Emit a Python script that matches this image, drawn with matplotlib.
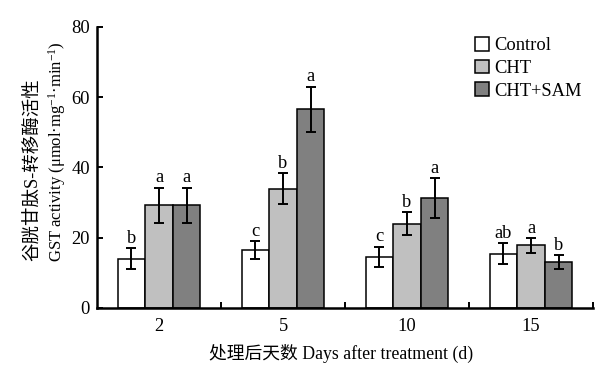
import matplotlib
matplotlib.use("Agg")
import matplotlib.pyplot as plt
import numpy as np

days = ["2", "5", "10", "15"]
series = ["Control", "CHT", "CHT+SAM"]
control = [14.0, 16.5, 14.5, 15.5]
cht = [29.3, 34.0, 24.0, 17.8]
cht_sam = [29.3, 56.6, 31.3, 13.0]
control_err = [3.0, 2.5, 2.9, 3.0]
cht_err = [5.0, 4.3, 3.3, 2.0]
cht_sam_err = [5.0, 6.4, 5.6, 2.0]
control_sig = ["b", "c", "c", "ab"]
cht_sig = ["a", "b", "b", "a"]
cht_sam_sig = ["a", "a", "a", "b"]

colors = ["white", "#c0c0c0", "#808080"]

plt.rcParams['font.family'] = ['Liberation Serif', 'Noto Sans CJK SC']
plt.rcParams['mathtext.fontset'] = 'custom'
plt.rcParams['mathtext.rm'] = 'Liberation Serif'
plt.rcParams['mathtext.it'] = 'Liberation Serif:italic'

FS = 13.3

fig = plt.figure(figsize=(6.11, 3.70), dpi=100)
ax = fig.add_axes([97/611, 62/370, 496/611, 281/370])

x = np.arange(len(days))
w = 0.223
vals = [control, cht, cht_sam]
errs = [control_err, cht_err, cht_sam_err]
sigs = [control_sig, cht_sig, cht_sam_sig]
for i, (v, e, s, c, name) in enumerate(zip(vals, errs, sigs, colors, series)):
    xs = x + (i - 1) * w
    ax.bar(xs, v, width=w, color=c, edgecolor='black', linewidth=1.1, label=name, zorder=2)
    ax.errorbar(xs, v, yerr=e, fmt='none', ecolor='black', elinewidth=1.4,
                capsize=3.8, capthick=1.4, zorder=3)
    for xi, vi, ei, si in zip(xs, v, e, s):
        ax.annotate(si, (xi, vi + ei), xytext=(0, 1.0), textcoords='offset points',
                    ha='center', va='bottom', fontsize=FS)

ax.set_xlim(-0.5, 3.5)
ax.set_ylim(0, 80)
ax.set_xticks(x)
ax.set_xticklabels(days, fontsize=FS)
ax.set_xticks([0.5, 1.5, 2.5, 3.5], minor=True)
ax.tick_params(axis='x', which='major', length=0, pad=7)
ax.tick_params(axis='x', which='minor', direction='in', length=4, width=1.4)
ax.set_yticks([0, 20, 40, 60, 80])
ax.tick_params(axis='y', direction='in', length=4, width=1.4, labelsize=FS, pad=5)
for sp in ['top', 'right']:
    ax.spines[sp].set_visible(False)
for sp in ['left', 'bottom']:
    ax.spines[sp].set_linewidth(1.8)

fig.text(341/611, 1 - 353/370, "处理后天数 Days after treatment (d)", ha='center', va='center', fontsize=12.8)
fig.text(33/611, 1 - 170/370, "谷胱甘肽S-转移酶活性", rotation=90, ha='center', va='center', fontsize=FS)
fig.text(57/611, 1 - 152/370, "GST activity (μmol·mg$^{-1}$·min$^{-1}$)", rotation=90,
         ha='center', va='center', fontsize=12)

leg = ax.legend(loc='upper left', bbox_to_anchor=(475/611, 1 - 37/370), bbox_transform=fig.transFigure,
                frameon=False, fontsize=FS, handlelength=0.75, handleheight=0.75,
                handletextpad=0.3, labelspacing=0.3, borderpad=0, borderaxespad=0)

fig.savefig("out.png", dpi=100)
